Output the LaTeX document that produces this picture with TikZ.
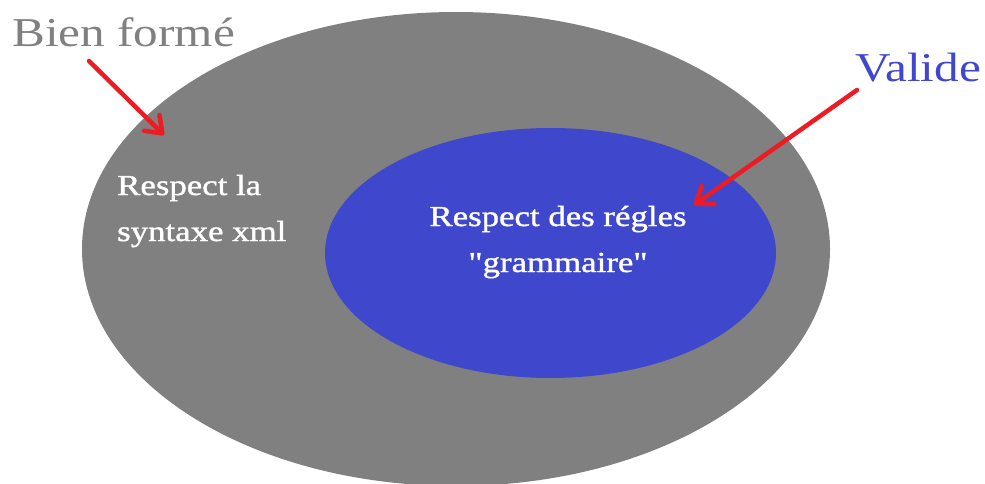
\documentclass[tikz,border=0pt]{standalone}
\usepackage{fontspec}
\setmainfont{Liberation Serif}
\newfontfamily\widefont[FakeStretch=1.2]{Liberation Serif}
\newfontfamily\widebodyfont[FakeStretch=1.2,FakeBold=1.2]{Liberation Serif}
\usetikzlibrary{shapes.geometric,arrows.meta}
\definecolor{setgray}{RGB}{128,128,128}
\definecolor{setblue}{RGB}{63,72,204}
\definecolor{markred}{RGB}{237,28,36}
\begin{document}
\begin{tikzpicture}[x=1pt,y=-1pt,
  setshape/.style={ellipse,inner sep=0pt,draw=none},
  bodytext/.style={text=white,font=\widebodyfont\fontsize{29}{46}\selectfont,inner sep=0pt},
  titletext/.style={font=\widefont\fontsize{41}{41}\selectfont,inner sep=0pt},
  redarrow/.style={draw=markred,line width=4.5pt,line cap=round,
    -{Straight Barb[length=15pt,width=22pt,line width=4.5pt,round]}}]
\useasboundingbox (0,0) rectangle (985,484);
% the two nested sets
\node[setshape,fill=setgray,minimum width=748pt,minimum height=474pt] (outer) at (456,249) {};
\node[setshape,fill=setblue,minimum width=451pt,minimum height=250pt] (inner) at (550.5,253) {};
% set descriptions (base anchor sits on the last line)
\node[bodytext,anchor=base west,align=left] (syntax) at (117,241) {Respect la\\syntaxe xml};
\node[bodytext,anchor=base,align=center] (grammar) at (558,272) {Respect des régles\\"grammaire"};
% set names
\node[titletext,text=setgray,anchor=base west] (wellformed) at (12,47) {Bien formé};
\node[titletext,text=setblue,anchor=base west] (valid) at (855,82) {Valide};
% pointers
\coordinate (wfstart) at (89,61);
\coordinate (wftip) at (164,135);
\coordinate (vstart) at (857,90);
\coordinate (vtip) at (694,205);
\draw[redarrow] (wfstart) -- (wftip);
\draw[redarrow] (vstart) -- (vtip);
\end{tikzpicture}
\end{document}
